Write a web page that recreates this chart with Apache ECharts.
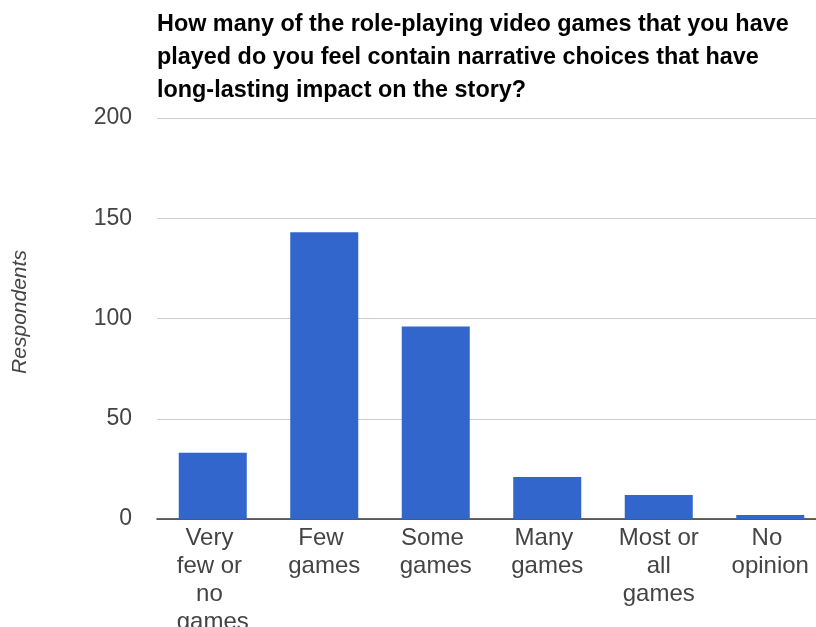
<!DOCTYPE html>
<html>
<head>
<meta charset="utf-8">
<script src="https://cdn.jsdelivr.net/npm/echarts@6/dist/echarts.min.js"></script>
<style>
  html, body { margin: 0; padding: 0; background: #fff; }
  #chart { width: 816px; height: 627px; }
</style>
</head>
<body>
<div id="chart"></div>
<script>
// Survey answers: how many RPGs have choices with long-lasting story impact
const categories = [
  'Very few or no games',
  'Few games',
  'Some games',
  'Many games',
  'Most or all games',
  'No opinion'
];
const respondents = [33, 143, 96, 21, 12, 2];
const yTicks = [0, 50, 100, 150, 200];
const yAxisTitle = 'Respondents';

const titleText = 'How many of the role-playing video games that you have\n' +
  'played do you feel contain narrative choices that have\n' +
  'long-lasting impact on the story?';

const chart = echarts.init(document.getElementById('chart'), null, { renderer: 'canvas' });

chart.setOption({
  animation: false,
  backgroundColor: '#ffffff',
  title: {
    text: titleText,
    left: 157,
    top: 8,
    padding: 0,
    textStyle: {
      fontFamily: '"Liberation Sans", Arial, sans-serif',
      fontWeight: 'bold',
      fontSize: 23.4,
      lineHeight: 33,
      color: '#000000'
    }
  },
  // vertical axis title, placed left of the tick labels
  graphic: [{
    type: 'text',
    x: 20,
    y: 312,
    rotation: Math.PI / 2,
    style: {
      text: yAxisTitle,
      font: 'italic 21px "Liberation Sans", Arial, sans-serif',
      fill: '#444444',
      align: 'center',
      verticalAlign: 'middle'
    }
  }],
  grid: {
    left: 157,
    top: 118,
    width: 669,
    height: 401,
    containLabel: false,
    outerBoundsMode: 'none'
  },
  xAxis: {
    type: 'category',
    data: categories,
    axisTick: { show: false },
    axisLine: { show: true, lineStyle: { color: '#333333', width: 1.5 } },
    axisLabel: {
      interval: 0,
      margin: 5,
      width: 84,
      overflow: 'break',
      fontFamily: '"Liberation Sans", Arial, sans-serif',
      fontSize: 24,
      lineHeight: 28,
      color: '#444444',
      align: 'center'
    }
  },
  yAxis: {
    type: 'value',
    min: yTicks[0],
    max: yTicks[yTicks.length - 1],
    interval: yTicks[1] - yTicks[0],
    axisLine: { show: false },
    axisTick: { show: false },
    axisLabel: {
      margin: 25,
      fontFamily: '"Liberation Sans", Arial, sans-serif',
      fontSize: 23,
      color: '#444444'
    },
    splitLine: { lineStyle: { color: '#cccccc', width: 1 } }
  },
  series: [{
    type: 'bar',
    data: respondents,
    barCategoryGap: '39%',
    itemStyle: { color: '#3366cc' }
  }]
});
</script>
</body>
</html>
